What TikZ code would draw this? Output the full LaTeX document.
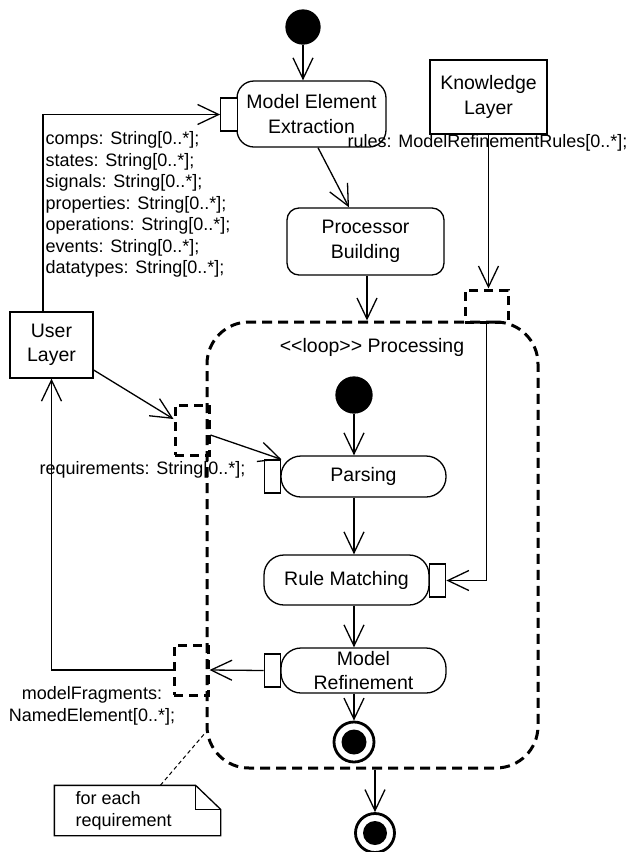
\documentclass[tikz,border=0pt]{standalone}
\usepackage{fontspec}
\setmainfont{Liberation Sans}
\usetikzlibrary{arrows.meta,calc}
\begin{document}
\begin{tikzpicture}[x=1pt,y=-1pt, line width=1.3pt,
 arr/.style={-{Straight Barb[length=21pt,width=20pt]}},
 nf/.style={font=\fontsize{19.5}{24.5}\selectfont},
 lf/.style={font=\fontsize{18}{21.5}\selectfont},
 actbox/.style={draw, rounded corners=#1, inner sep=0pt, align=center, nf},
 actbox/.default=18pt,
 ubox/.style={draw, inner sep=0pt, align=center, nf},
 pinbox/.style={draw, fill=white, inner sep=0pt, minimum width=16.5pt, minimum height=33pt},
 dpinbox/.style={draw, dash pattern=on 9pt off 6pt, line width=3pt, inner sep=0pt},
 loopregion/.style={draw, dash pattern=on 10pt off 6pt, line width=3pt, rounded corners=42pt, inner sep=0pt},
 initnode/.style={circle, fill=black, draw, inner sep=0pt},
 finnode/.style={circle, draw, line width=2.8pt, fill=white, inner sep=0pt, minimum size=40pt},
 notedash/.style={dash pattern=on 4pt off 3pt, line width=1pt}
]
\useasboundingbox (0,0) rectangle (630,852);

% loop region
\node[loopregion, minimum width=331pt, minimum height=446pt] (loop) at (372.5,545) {};
\node[nf] (looplbl) at (372,347) {<\kern0pt<loop>\kern0pt> Processing};

% top part
\node[initnode, minimum size=34pt] (start) at (303,27) {};
\node[actbox=17pt, minimum width=149pt, minimum height=66pt] (mee) at (311.5,114) {Model Element\\Extraction};
\node[pinbox] (meepin) at (229,114.5) {};
\node[actbox=12pt, minimum width=157pt, minimum height=67pt] (pb) at (365.5,241.5) {Processor\\Building};
\node[ubox, minimum width=117pt, minimum height=74pt] (kl) at (488.5,97) {Knowledge\\Layer};
\node[ubox, minimum width=83pt, minimum height=66pt] (ul) at (51.5,345) {User\\Layer};

% dashed pins
\node[dpinbox, minimum width=43pt, minimum height=32pt] (kpin) at (486.5,306) {};
\node[dpinbox, minimum width=34pt, minimum height=50pt] (reqpin) at (192,430) {};
\node[dpinbox, minimum width=34pt, minimum height=50pt] (mfpin) at (191,670) {};

% inner activity
\node[initnode, minimum size=36pt] (istart) at (354,395) {};
\node[actbox=20pt, minimum width=165pt, minimum height=41pt] (parse) at (363.5,476.5) {Parsing};
\node[pinbox] (parsepin) at (272.5,476.5) {};
\node[actbox=20pt, minimum width=165pt, minimum height=50pt] (rm) at (346.5,580) {Rule Matching};
\node[pinbox] (rmpin) at (437.5,580.5) {};
\node[actbox=20pt, minimum width=165pt, minimum height=45pt] (mr) at (363.5,670.5) {Model\\Refinement};
\node[pinbox] (mrpin) at (272.5,670.5) {};
\node[finnode] (ifinal) at (354,742) {};
\fill (ifinal.center) circle (12.5);
\node[finnode, minimum size=39pt] (final) at (375,833) {};
\fill (final.center) circle (12);

% connectors
\draw[arr] (start.south) -- (start.south |- mee.north);
\draw[arr] ([xshift=-8.5pt]ul.north) |- (meepin.west);
\draw[arr] ([xshift=6.5pt]mee.south) -- ([xshift=-16.5pt]pb.north);
\draw[arr] ([xshift=1.5pt]pb.south) -- ([xshift=1.5pt]pb.south |- loop.north);
\draw[arr] (kl.south) -- (kl.south |- kpin.north);
\draw[arr] (kpin.south) |- (rmpin.east);
\draw[arr] (istart.south) -- (istart.south |- parse.north);
\draw[arr] (istart |- parse.south) -- (istart |- rm.north);
\draw[arr] (istart |- rm.south) -- (istart |- mr.north);
\draw[arr] (istart |- mr.south) -- (ifinal.north);
\draw[arr] (final |- loop.south) -- (final.north);
\draw[arr] ($(ul.east)+(0,25)$) -- ($(reqpin.west)+(0,-11)$);
\draw[arr] ($(reqpin.east)+(0,5)$) -- (parsepin.north east);
\draw[arr] (mrpin.west) -- (mfpin.east);
\draw[arr] (mfpin.west) -| (ul.south);

% labels
\node[lf, anchor=north west, align=left, inner sep=0pt] (attrs) at (45,131) {comps: String[0..*];\\states: String[0..*];\\signals: String[0..*];\\properties: String[0..*];\\operations: String[0..*];\\events: String[0..*];\\datatypes: String[0..*];};
\node[lf, anchor=west, inner sep=0pt] (ruleslbl) at (347,143) {rules: ModelRefinementRules[0..*];};
\node[lf, anchor=west, inner sep=0pt] (reqlbl) at (39,470) {requirements: String[0..*];};
\node[lf, align=center, inner sep=0pt] (mflbl) at (92,706) {modelFragments:\\NamedElement[0..*];};

% note
\node[minimum width=165pt, minimum height=49pt, inner sep=0pt] (note) at (137.5,810.5) {};
\draw[fill=white] (note.north west) -- ($(note.north east)+(-25,0)$) -- ($(note.north east)+(0,24)$) -- (note.south east) -- (note.south west) -- cycle;
\draw ($(note.north east)+(-25,0)$) |- ($(note.north east)+(0,24)$);
\node[lf, anchor=west, align=left, inner sep=0pt] (notetext) at (75,811) {for each\\requirement};
\draw[notedash] ($(note.north west)+(106,0)$) -- ($(loop.south west)+(0,-37)$);
\end{tikzpicture}
\end{document}
